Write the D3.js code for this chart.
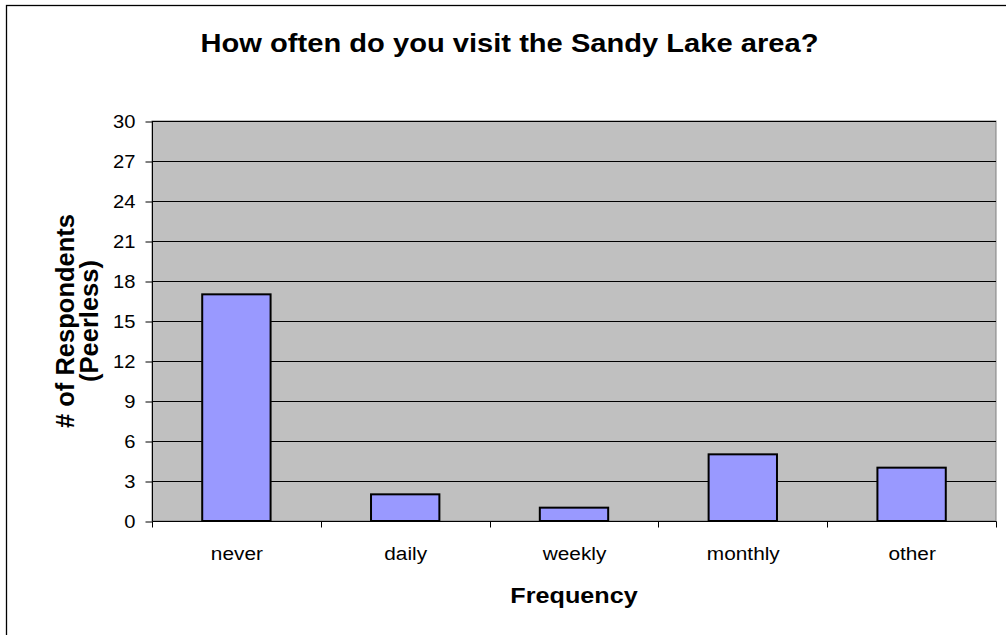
<!DOCTYPE html>
<html><head><meta charset="utf-8">
<script src="https://cdn.jsdelivr.net/npm/d3@7"></script>
<style>body{margin:0;background:#fff}svg{display:block}text{font-family:Arial,"Liberation Sans",sans-serif}</style>
</head><body>
<script>
const categories = ["never", "daily", "weekly", "monthly", "other"];
const values = [17, 2, 1, 5, 4];
const yTicks = [0, 3, 6, 9, 12, 15, 18, 21, 24, 27, 30];
const title = "How often do you visit the Sandy Lake area?";
const xTitle = "Frequency";
const yTitleLines = ["# of Respondents", "(Peerless)"];

const W = 1006, H = 635, SX = 1.12;
const m = {left: 152, top: 121, right: 996, bottom: 521};
const svg = d3.select("body").append("svg").attr("width", W).attr("height", H);

svg.append("rect").attr("x", 6.5).attr("y", 5.5).attr("width", 1010).attr("height", 640)
  .attr("fill", "#fff").attr("stroke", "#000").attr("stroke-width", 1.3);

const x = d3.scaleBand().domain(categories).range([m.left, m.right]).padding(0);
const y = d3.scaleLinear().domain([0, 30]).range([m.bottom, m.top]);

svg.append("rect").attr("x", m.left).attr("y", m.top).attr("width", m.right - m.left)
  .attr("height", m.bottom - m.top).attr("fill", "#C0C0C0").attr("stroke", "#808080").attr("stroke-width", 1);

// gridlines
svg.append("g").selectAll("line").data(yTicks.filter(d => d > 0)).join("line")
  .attr("x1", m.left).attr("x2", m.right)
  .attr("y1", d => Math.round(y(d)) + 0.5).attr("y2", d => Math.round(y(d)) + 0.5)
  .attr("stroke", "#000").attr("stroke-width", 1);

// bars
const bw = x.bandwidth() * 0.405;
svg.append("g").selectAll("rect").data(values).join("rect")
  .attr("x", (d, i) => x(categories[i]) + x.bandwidth() / 2 - bw / 2)
  .attr("y", d => y(d))
  .attr("width", bw)
  .attr("height", d => y(0) - y(d))
  .attr("fill", "#9999FF").attr("stroke", "#000").attr("stroke-width", 2);

// y axis
const yAxis = d3.axisLeft(y).tickValues(yTicks).tickSize(7).tickPadding(10);
const gy = svg.append("g").attr("transform", `translate(${m.left + 0.5},0.5)`).call(yAxis);
gy.select(".domain").attr("d", `M0,${m.top}V${m.bottom}`).attr("stroke", "#000");
gy.selectAll(".tick line").attr("stroke", "#000");
gy.selectAll(".tick text").attr("x", 0).attr("transform", `translate(-17,0) scale(${SX},1)`)
  .attr("font-size", 18).attr("fill", "#000").attr("font-family", "Arial, 'Liberation Sans', sans-serif");

// x axis
const xb = d3.scaleLinear().domain([0, categories.length]).range([m.left, m.right]);
const gx = svg.append("g").attr("transform", `translate(0.5,${m.bottom + 0.5})`);
gx.append("line").attr("x1", m.left).attr("x2", m.right).attr("stroke", "#000");
gx.selectAll("line.t").data(d3.range(categories.length + 1)).join("line").attr("class", "t")
  .attr("x1", d => Math.round(xb(d))).attr("x2", d => Math.round(xb(d))).attr("y1", 0).attr("y2", 6).attr("stroke", "#000");
gx.selectAll("text").data(categories).join("text")
  .attr("transform", d => `translate(${x(d) + x.bandwidth() / 2},38) scale(${SX},1)`)
  .attr("text-anchor", "middle").attr("font-size", 18.6).text(d => d);

// titles
svg.append("text").attr("transform", `translate(509.5,52) scale(${SX},1)`).attr("text-anchor", "middle")
  .attr("font-size", 26).attr("font-weight", "bold").text(title);
svg.append("text").attr("transform", `translate(${(m.left + m.right) / 2},603) scale(${SX},1)`).attr("text-anchor", "middle")
  .attr("font-size", 22.5).attr("font-weight", "bold").text(xTitle);
const yt = svg.append("text").attr("transform", `translate(0,${(m.top + m.bottom) / 2}) rotate(-90)`)
  .attr("text-anchor", "middle").attr("font-size", 25.5).attr("font-weight", "bold");
yt.selectAll("tspan").data(yTitleLines).join("tspan")
  .attr("x", 0).attr("y", (d, i) => i === 0 ? 74 : 98).text(d => d);
</script>
</body></html>
